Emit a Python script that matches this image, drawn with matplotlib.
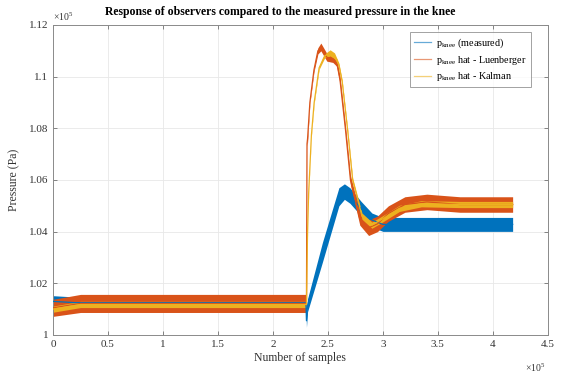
import numpy as np
import matplotlib
matplotlib.use('Agg')
import matplotlib.pyplot as plt
from matplotlib.ticker import FuncFormatter

# valores (x en 1e5 muestras, y en 1e5 Pa)
x_meas = [0, 0.2, 2.30, 2.305, 2.315, 2.45, 2.60, 2.65, 2.70, 2.80, 2.90, 3.0, 3.5, 4.18]
y_meas = [1.013, 1.0125, 1.0125, 1.0055, 1.0115, 1.032, 1.0535, 1.0555, 1.054, 1.049, 1.0445, 1.0428, 1.0428, 1.0428]
w_meas = [0.0022, 0.0022, 0.0022, 0.0025, 0.0025, 0.0038, 0.0035, 0.003, 0.003, 0.0028, 0.0027, 0.0027, 0.0027, 0.0027]

x_luen = [0, 0.25, 2.305, 2.31, 2.315, 2.336, 2.373, 2.409, 2.436, 2.49, 2.545, 2.58, 2.61, 2.66, 2.705, 2.79, 2.87,
          2.95, 3.05, 3.2, 3.4, 3.7, 4.18]
y_luen = [1.0105, 1.0122, 1.0122, 1.074, 1.076, 1.090, 1.1026, 1.110, 1.1115, 1.1075, 1.107, 1.1055, 1.0987, 1.0794,
          1.060, 1.045, 1.0415, 1.043, 1.047, 1.0505, 1.0515, 1.0505, 1.0505]
w_luen = [0.0033, 0.0035, 0.0035, 0.0008, 0.0015, 0.0006, 0.0008, 0.0012, 0.0015, 0.0015, 0.0015, 0.0015, 0.0015,
          0.0015, 0.0018, 0.0025, 0.003, 0.003, 0.003, 0.003, 0.003, 0.003, 0.003]

x_kal = [0, 0.25, 2.305, 2.315, 2.325, 2.35, 2.375, 2.42, 2.47, 2.52, 2.56, 2.60, 2.63, 2.68, 2.725, 2.81, 2.90,
         3.0, 3.15, 3.35, 3.7, 4.18]
y_kal = [1.010, 1.0118, 1.0118, 1.040, 1.055, 1.0774, 1.090, 1.1034, 1.108, 1.1092, 1.108, 1.1045, 1.098, 1.079,
         1.060, 1.046, 1.0425, 1.045, 1.049, 1.0508, 1.0505, 1.0505]
w_kal = [0.0012, 0.0012, 0.0012, 0.0004, 0.0004, 0.0004, 0.0005, 0.0006, 0.0008, 0.0012, 0.0012, 0.0008, 0.0006,
         0.0006, 0.0008, 0.0012, 0.0012, 0.0012, 0.0012, 0.0012, 0.0012, 0.0012]

etiquetas = [r'$\mathregular{p_{knee}}$ (measured)',
             r'$\mathregular{p_{knee}}$ hat - Luenberger',
             r'$\mathregular{p_{knee}}$ hat - Kalman']
colores = ['#0072BD', '#D95319', '#EDB120']

plt.rcParams['font.family'] = ['Liberation Serif', 'DejaVu Serif']
plt.rcParams['mathtext.fontset'] = 'custom'
plt.rcParams['mathtext.rm'] = 'Liberation Serif'

fig = plt.figure(figsize=(5.61, 3.73), dpi=100)
ax = fig.add_axes([0.0945, 0.102, 0.882, 0.831])

series = [(x_meas, y_meas, w_meas), (x_luen, y_luen, w_luen), (x_kal, y_kal, w_kal)]
for (xs, ys, ws), col, lab in zip(series, colores, etiquetas):
    xs = np.array(xs) * 1e5
    ys = np.array(ys) * 1e5
    ws = np.array(ws) * 1e5
    ax.fill_between(xs, ys - ws, ys + ws, color=col, lw=0, zorder=2)
    ax.plot(xs, ys, color=col, lw=0.9, label=lab, zorder=3)

ax.set_xlim(0, 4.5e5)
ax.set_ylim(1.0e5, 1.12e5)
ax.set_xticks(np.arange(0, 4.51e5, 0.5e5))
ax.set_yticks(np.arange(1.0e5, 1.1201e5, 0.02e5))
fmt = FuncFormatter(lambda v, p: f'{v / 1e5:g}')
ax.xaxis.set_major_formatter(fmt)
ax.yaxis.set_major_formatter(fmt)
ax.tick_params(direction='in', length=3, width=0.6, colors='#707070', labelcolor='#333333',
               labelsize=8, top=True, right=True)
for s in ax.spines.values():
    s.set_color('#8a8a8a')
    s.set_linewidth(0.7)
ax.grid(True, color='#e8e8e8', lw=0.6, zorder=0)
ax.set_axisbelow(True)

ax.set_title('Response of observers compared to the measured pressure in the knee',
             fontsize=8.5, fontweight='bold', x=0.46, pad=7)
ax.set_xlabel('Number of samples', fontsize=8.5, color='#333333', labelpad=2)
ax.set_ylabel('Pressure (Pa)', fontsize=8.5, color='#333333', labelpad=6)

ax.text(0.0, 1.005, r'$\times\mathregular{10^5}$', transform=ax.transAxes, fontsize=7,
        color='#333333', ha='left', va='bottom')
ax.text(0.995, -0.085, r'$\times\mathregular{10^5}$', transform=ax.transAxes, fontsize=7,
        color='#333333', ha='right', va='top')

leg = ax.legend(loc='upper right', bbox_to_anchor=(0.966, 0.976), fontsize=7.3, handlelength=1.7,
                handletextpad=0.5, borderaxespad=0, frameon=True, fancybox=False, labelspacing=0.35,
                borderpad=0.4)
leg.get_frame().set_edgecolor('#8a8a8a')
leg.get_frame().set_linewidth(0.7)
for linea in leg.get_lines():
    linea.set_alpha(0.6)

plt.savefig('out.png', dpi=100)
